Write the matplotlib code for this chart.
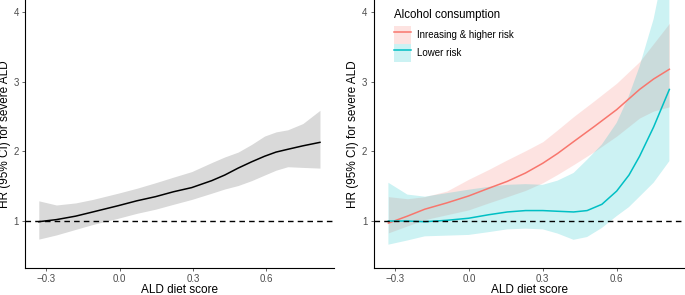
import numpy as np
import matplotlib.pyplot as plt
import matplotlib.patches as mpatches

plt.rcParams['font.family'] = ['Liberation Sans', 'DejaVu Sans']

# overall curve (left panel)
x_all = [-0.331, -0.259, -0.18, -0.11, -0.006, 0.07, 0.147, 0.22, 0.295, 0.377, 0.43, 0.485, 0.54, 0.593, 0.64, 0.688, 0.75, 0.82]
hr_all = [0.99, 1.02, 1.07, 1.13, 1.22, 1.29, 1.35, 1.42, 1.48, 1.58, 1.66, 1.76, 1.85, 1.93, 1.99, 2.03, 2.08, 2.13]
lo_all = [0.74, 0.80, 0.88, 0.95, 1.04, 1.11, 1.17, 1.24, 1.31, 1.40, 1.46, 1.51, 1.58, 1.66, 1.73, 1.78, 1.77, 1.76]
hi_all = [1.29, 1.23, 1.26, 1.31, 1.40, 1.47, 1.55, 1.63, 1.71, 1.84, 1.92, 1.99, 2.10, 2.22, 2.28, 2.31, 2.40, 2.59]

# increasing & higher risk drinkers
x_hi = [-0.327, -0.25, -0.179, -0.09, -0.001, 0.08, 0.156, 0.23, 0.30, 0.36, 0.425, 0.51, 0.60, 0.693, 0.75, 0.814]
hr_hi = [0.97, 1.07, 1.17, 1.26, 1.36, 1.47, 1.57, 1.69, 1.83, 1.97, 2.14, 2.36, 2.60, 2.89, 3.04, 3.18]
lo_hi = [0.83, 0.93, 1.02, 1.09, 1.16, 1.26, 1.35, 1.44, 1.55, 1.67, 1.81, 2.00, 2.22, 2.48, 2.58, 2.64]
hi_hi = [1.35, 1.32, 1.35, 1.43, 1.60, 1.74, 1.88, 2.01, 2.14, 2.31, 2.50, 2.73, 2.98, 3.29, 3.55, 3.84]

# lower risk drinkers
x_lo = [-0.327, -0.25, -0.179, -0.09, -0.001, 0.08, 0.156, 0.23, 0.30, 0.36, 0.425, 0.48, 0.54, 0.60, 0.65, 0.693, 0.75, 0.814]
hr_lo = [1.00, 1.00, 0.99, 1.01, 1.04, 1.09, 1.13, 1.15, 1.15, 1.14, 1.13, 1.15, 1.24, 1.43, 1.66, 1.93, 2.35, 2.89]
lo_lo = [0.66, 0.72, 0.78, 0.79, 0.80, 0.84, 0.88, 0.89, 0.88, 0.82, 0.73, 0.77, 0.90, 1.07, 1.20, 1.35, 1.55, 1.86]
hi_lo = [1.55, 1.38, 1.35, 1.40, 1.45, 1.49, 1.52, 1.53, 1.52, 1.58, 1.69, 1.88, 2.10, 2.41, 2.80, 3.22, 3.90, 5.00]

xticks = [-0.3, 0.0, 0.3, 0.6]
xtick_labels = ['\u22120.3', '0.0', '0.3', '0.6']
yticks = [1, 2, 3, 4]

red = '#F8766D'
cyan = '#00BFC4'
tick_col = '#4D4D4D'

fig = plt.figure(figsize=(6.85, 2.95), dpi=100)
W, H = 685.0, 295.0
ax1 = fig.add_axes([25 / W, 1 - 268 / H, (334 - 25) / W, 268 / H])
ax2 = fig.add_axes([373.5 / W, 1 - 268 / H, (685 - 373.5) / W, 268 / H])

ax1.fill_between(x_all, lo_all, hi_all, color='#D9D9D9', lw=0)
ax1.plot(x_all, hr_all, color='black', lw=1.1)

ax2.fill_between(x_hi, lo_hi, hi_hi, color=red, alpha=0.2, lw=0)
ax2.fill_between(x_lo, lo_lo, hi_lo, color=cyan, alpha=0.2, lw=0)
l1, = ax2.plot(x_hi, hr_hi, color=red, lw=1.1)
l2, = ax2.plot(x_lo, hr_lo, color=cyan, lw=1.1)

for ax in (ax1, ax2):
    ax.axhline(1, color='black', lw=1.0, ls=(0, (4, 3)))
    ax.set_xlim(-0.3875, 0.8775)
    ax.set_ylim(0.325, 4.175)
    ax.set_xticks(xticks)
    ax.set_xticklabels(xtick_labels)
    ax.set_yticks(yticks)
    ax.tick_params(labelsize=7, colors=tick_col, length=2.5, width=0.6, pad=2)
    ax.spines['top'].set_visible(False)
    ax.spines['right'].set_visible(False)
    for s in ('left', 'bottom'):
        ax.spines[s].set_linewidth(0.8)
        ax.spines[s].set_color('black')
    ax.set_xlabel('ALD diet score', fontsize=8.5, labelpad=0)
    ax.set_ylabel('HR (95% CI) for severe ALD', fontsize=8.5, labelpad=2)

h1 = (mpatches.Patch(color=red, alpha=0.2, lw=0), l1)
h2 = (mpatches.Patch(color=cyan, alpha=0.2, lw=0), l2)
leg = ax2.legend([h1, h2], ['Inreasing & higher risk', 'Lower risk'],
                 title='Alcohol consumption', loc='upper left',
                 bbox_to_anchor=(0.066, 0.967), frameon=False, fontsize=7,
                 title_fontsize=8.3, handlelength=1.75, handleheight=2.47,
                 labelspacing=0.0, handletextpad=0.6, borderaxespad=0.0,
                 borderpad=0.0)
leg._legend_box.align = 'left'
leg._legend_box.sep = 4

fig.savefig('out.png', dpi=100)
